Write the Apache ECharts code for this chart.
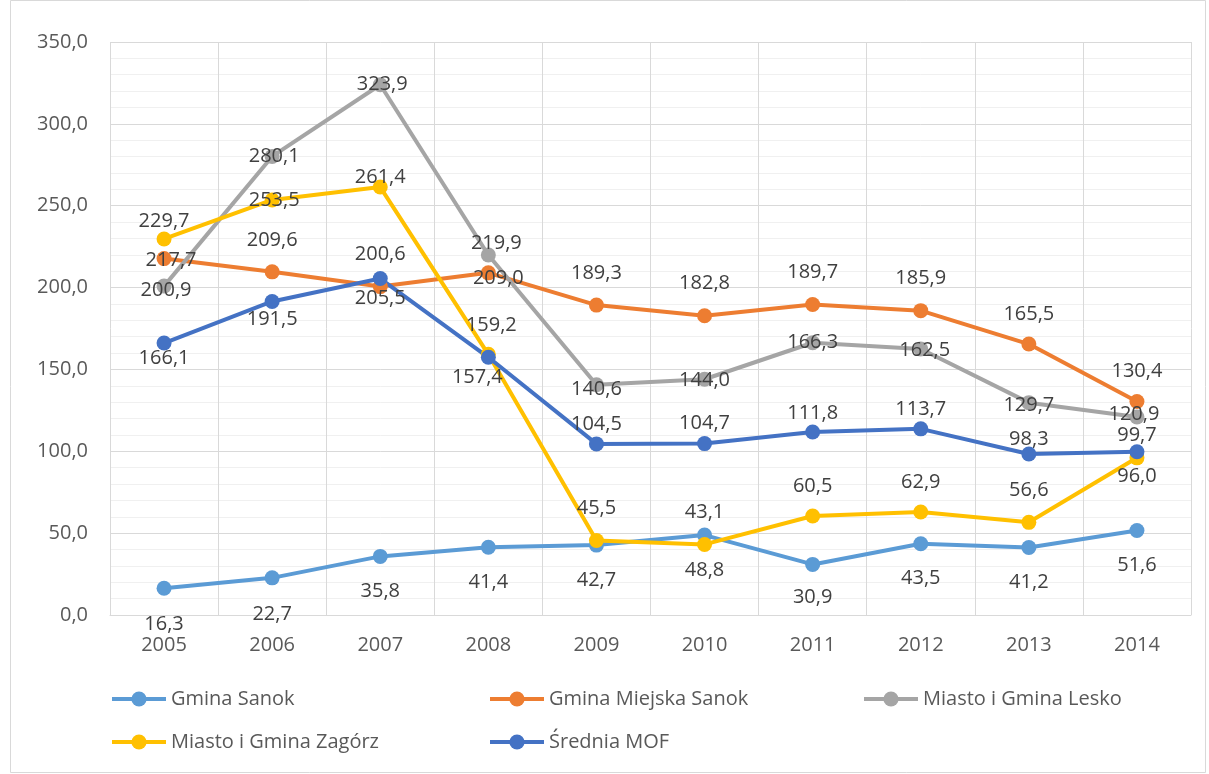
<!DOCTYPE html>
<html>
<head>
<meta charset="utf-8">
<script src="https://cdn.jsdelivr.net/npm/echarts@6/dist/echarts.min.js"></script>
<style>
  html, body { margin: 0; padding: 0; background: #fff; }
  #chart { width: 1209px; height: 774px; }
</style>
</head>
<body>
<div id="chart"></div>
<script>
// dane
const years = ['2005', '2006', '2007', '2008', '2009', '2010', '2011', '2012', '2013', '2014'];
const gminaSanok = [16.3, 22.7, 35.8, 41.4, 42.7, 48.8, 30.9, 43.5, 41.2, 51.6];
const gminaMiejskaSanok = [217.7, 209.6, 200.6, 209.0, 189.3, 182.8, 189.7, 185.9, 165.5, 130.4];
const lesko = [200.9, 280.1, 323.9, 219.9, 140.6, 144.0, 166.3, 162.5, 129.7, 120.9];
const zagorz = [229.7, 253.5, 261.4, 159.2, 45.5, 43.1, 60.5, 62.9, 56.6, 96.0];
const sredniaMOF = [166.1, 191.5, 205.5, 157.4, 104.5, 104.7, 111.8, 113.7, 98.3, 99.7];
const yTicks = { min: 0, max: 350, interval: 50 };

// przesuniecia etykiet (tak jak w oryginale z Excela)
const offSanok = [[0,36],[0,36],[0,35],[0,35],[0,35],[0,35],[0,33],[0,35],[0,35],[0,35]];
const offMiejska = [[7,2],[0,-32],[0,-32],[10,5],[0,-32],[0,-32],[0,-32],[0,-32],[0,-30],[0,-30]];
const offLesko = [[2,4],[2,0],[2,0],[8,-12],[0,4],[0,1],[0,0],[4,1],[0,3],[-3,-3]];
const offZagorz = [[0,-18],[2,0],[0,-10],[3,-29],[0,-32],[0,-32],[0,-30],[0,-30],[0,-32],[0,18]];
const offMOF = [[0,15],[0,18],[0,20],[-11,20],[0,-20],[0,-20],[0,-19],[0,-20],[0,-15],[0,-16]];

const fmt = v => v.toFixed(1).replace('.', ',');
const FONT = '"Open Sans", "Noto Sans", sans-serif';

function makeSeries(name, values, color, offsets) {
  return {
    name: name,
    type: 'line',
    data: values.map((v, i) => ({
      value: v,
      label: { offset: offsets[i] }
    })),
    symbol: 'circle',
    symbolSize: 15,
    lineStyle: { width: 4, color: color },
    itemStyle: { color: color },
    label: {
      show: true,
      position: 'inside',
      formatter: p => fmt(p.value),
      color: '#404040',
      fontSize: 20,
      fontFamily: FONT
    },
    emphasis: { disabled: true },
    animation: false
  };
}

function legendAt(name, left, top) {
  return {
    data: [name],
    left: left,
    top: top,
    padding: 0,
    itemWidth: 54,
    itemHeight: 19,
    itemGap: 5,
    lineStyle: { width: 4 },
    textStyle: { color: '#595959', fontSize: 20, fontFamily: FONT },
    selectedMode: false
  };
}

const chart = echarts.init(document.getElementById('chart'));
chart.setOption({
  backgroundColor: '#fff',
  graphic: [{
    type: 'rect',
    shape: { x: 10.5, y: 0.5, width: 1195, height: 772 },
    style: { fill: 'none', stroke: '#d9d9d9', lineWidth: 1 },
    silent: true
  }],
  grid: { left: 110, right: 18, top: 42, bottom: 159 },
  legend: [
    legendAt('Gmina Sanok', 110, 689),
    legendAt('Gmina Miejska Sanok', 488, 689),
    legendAt('Miasto i Gmina Lesko', 862, 689),
    legendAt('Miasto i Gmina Zagórz', 110, 732),
    legendAt('Średnia MOF', 488, 732)
  ],
  xAxis: {
    type: 'category',
    data: years,
    boundaryGap: true,
    axisLine: { lineStyle: { color: '#d9d9d9', width: 1 } },
    axisTick: { show: false },
    axisLabel: { color: '#595959', fontSize: 20, fontFamily: FONT, margin: 20 },
    splitLine: { show: true, lineStyle: { color: '#d9d9d9', width: 1 } }
  },
  yAxis: {
    type: 'value',
    min: yTicks.min,
    max: yTicks.max,
    interval: yTicks.interval,
    axisLine: { show: false },
    axisTick: { show: false },
    axisLabel: { color: '#595959', fontSize: 20, fontFamily: FONT, margin: 22, formatter: v => fmt(v) },
    splitLine: { lineStyle: { color: '#d9d9d9', width: 1 } },
    minorTick: { show: false, splitNumber: 5 },
    minorSplitLine: { show: true, lineStyle: { color: '#f0f0f0', width: 1 } }
  },
  series: [
    makeSeries('Gmina Sanok', gminaSanok, '#5B9BD5', offSanok),
    makeSeries('Gmina Miejska Sanok', gminaMiejskaSanok, '#ED7D31', offMiejska),
    makeSeries('Miasto i Gmina Lesko', lesko, '#A5A5A5', offLesko),
    makeSeries('Miasto i Gmina Zagórz', zagorz, '#FFC000', offZagorz),
    makeSeries('Średnia MOF', sredniaMOF, '#4472C4', offMOF)
  ]
});
</script>
</body>
</html>
